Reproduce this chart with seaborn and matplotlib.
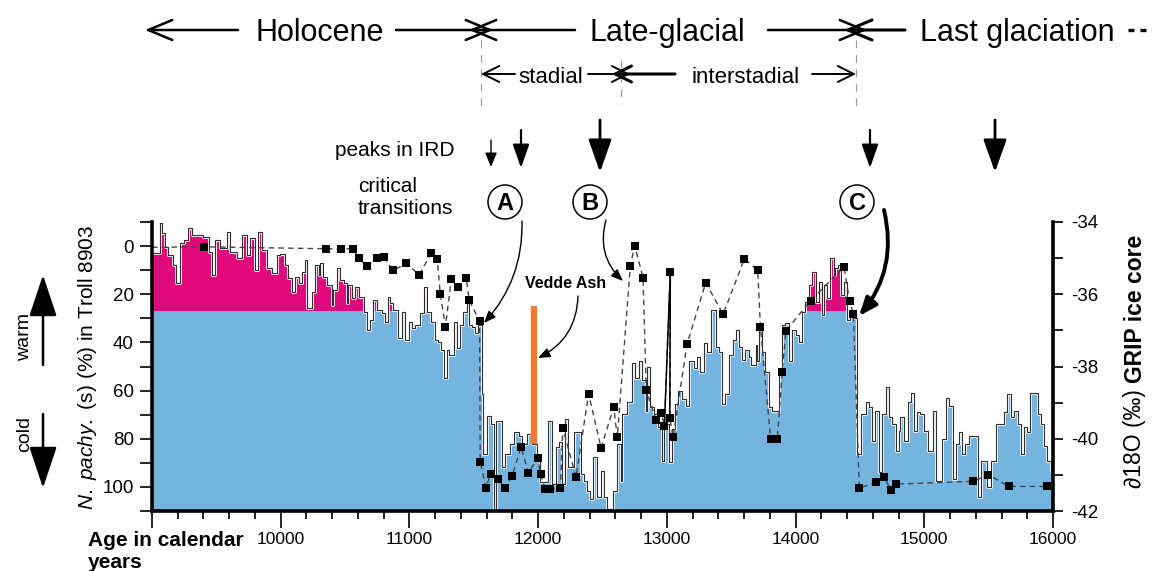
import numpy as np
import matplotlib
matplotlib.use("Agg")
import matplotlib.pyplot as plt
import matplotlib.transforms as mtransforms
from matplotlib.patches import FancyArrowPatch, Circle
from matplotlib.lines import Line2D
from matplotlib.ticker import MultipleLocator
from matplotlib import font_manager as fm
import seaborn as sns

# ---------------------------------------------------------------------------
# GRIP ice core d18O (permil): step series, start age of each interval
# ---------------------------------------------------------------------------
grip_age = [
    9000, 9060, 9075, 9100, 9125, 9165, 9190, 9220, 9245, 9280,
    9310, 9400, 9440, 9465, 9490, 9530, 9580, 9605, 9660, 9700,
    9735, 9760, 9800, 9825, 9855, 9890, 9930, 9970, 9995, 10035,
    10060, 10085, 10110, 10140, 10165, 10190, 10205, 10240, 10265, 10295,
    10305, 10325, 10360, 10395, 10410, 10435, 10460, 10490, 10515, 10525,
    10555, 10580, 10605, 10645, 10670, 10695, 10720, 10745, 10785, 10810,
    10830, 10850, 10875, 10915, 10940, 10965, 10995, 11020, 11045, 11085,
    11115, 11140, 11165, 11195, 11220, 11245, 11265, 11290, 11310, 11345,
    11370, 11395, 11420, 11445, 11460, 11485, 11510, 11535, 11565, 11575,
    11605, 11630, 11655, 11675, 11720, 11745, 11785, 11810, 11850, 11875,
    11915, 11955, 11990, 12015, 12080, 12110, 12135, 12160, 12185, 12210,
    12235, 12275, 12330, 12355, 12380, 12405, 12430, 12460, 12485, 12510,
    12535, 12585, 12615, 12640, 12655, 12690, 12730, 12755, 12780, 12810,
    12835, 12845, 12870, 12900, 12935, 12965, 12975, 13000, 13015, 13040,
    13065, 13090, 13120, 13145, 13170, 13210, 13235, 13260, 13285, 13310,
    13340, 13380, 13405, 13430, 13455, 13480, 13510, 13535, 13560, 13585,
    13610, 13635, 13650, 13690, 13700, 13715, 13740, 13765, 13790, 13820,
    13870, 13895, 13920, 13950, 13975, 14000, 14025, 14050, 14075, 14105,
    14130, 14155, 14180, 14205, 14220, 14245, 14270, 14300, 14310, 14330,
    14350, 14375, 14400, 14425, 14455, 14480, 14505, 14545, 14570, 14595,
    14620, 14650, 14675, 14700, 14725, 14750, 14780, 14805, 14815, 14840,
    14870, 14895, 14920, 14945, 14970, 15000, 15025, 15065, 15090, 15140,
    15165, 15190, 15220, 15245, 15270, 15295, 15320, 15350, 15415, 15440,
    15490, 15515, 15555, 15620, 15645, 15670, 15700, 15725, 15750, 15775,
    15800, 15825, 15880, 15905, 15930, 15955, 15985,
]
grip_d18o = [
    -34.86, -34.04, -34.31, -34.70, -34.92, -35.19, -35.69, -34.59, -34.50, -34.17,
    -34.37, -34.42, -34.83, -35.47, -34.50, -34.72, -34.28, -34.83, -35.00, -34.37,
    -34.92, -34.45, -35.33, -34.28, -34.78, -35.28, -35.41, -34.92, -34.89, -35.19,
    -35.55, -35.94, -35.52, -35.69, -35.39, -35.06, -36.38, -35.94, -35.19, -35.47,
    -35.14, -35.52, -35.74, -36.29, -35.88, -35.28, -35.61, -35.69, -36.24, -35.74,
    -36.10, -35.80, -36.07, -36.49, -36.98, -36.71, -36.16, -36.43, -36.52, -36.76,
    -36.07, -36.24, -36.43, -37.20, -36.49, -37.26, -36.76, -36.93, -36.85, -36.52,
    -35.80, -36.49, -36.76, -37.26, -37.31, -37.53, -38.31, -37.53, -37.67, -36.76,
    -37.48, -36.85, -36.49, -36.24, -36.85, -36.90, -37.07, -36.85, -38.77, -40.43,
    -39.37, -39.60, -41.94, -39.51, -40.78, -40.43, -40.15, -39.82, -39.93, -40.15,
    -39.87, -40.15, -40.43, -41.20, -39.51, -41.25, -40.23, -40.10, -41.25, -39.46,
    -40.78, -39.82, -40.98, -41.17, -41.45, -41.67, -40.51, -41.61, -40.90, -41.61,
    -41.94, -41.45, -40.15, -41.17, -39.32, -38.97, -37.89, -38.31, -37.86, -38.36,
    -39.24, -38.00, -39.13, -39.32, -39.68, -40.62, -39.40, -39.60, -40.65, -39.73,
    -39.05, -38.69, -38.91, -39.10, -37.86, -38.03, -37.73, -38.14, -37.34, -37.59,
    -36.43, -37.45, -37.59, -39.05, -38.77, -37.67, -37.26, -36.98, -37.45, -37.81,
    -37.53, -37.73, -37.95, -37.40, -37.86, -36.85, -37.59, -38.14, -39.13, -39.24,
    -38.22, -36.85, -36.79, -37.86, -36.98, -37.12, -37.31, -36.49, -36.21, -35.74,
    -35.39, -36.21, -35.66, -36.57, -35.74, -36.10, -35.00, -35.47, -35.28, -35.19,
    -36.02, -35.66, -36.71, -36.57, -36.65, -40.43, -39.32, -38.99, -39.13, -40.07,
    -39.24, -40.93, -39.32, -38.58, -39.40, -39.60, -40.34, -39.79, -39.40, -40.07,
    -38.97, -38.72, -39.79, -39.27, -39.32, -39.79, -40.34, -39.24, -41.17, -40.01,
    -38.86, -39.10, -41.12, -40.15, -39.82, -40.43, -40.15, -39.93, -41.61, -40.62,
    -41.34, -40.62, -39.60, -39.27, -38.77, -39.40, -39.24, -39.60, -40.43, -39.68,
    -39.82, -38.72, -39.32, -39.60, -40.21, -40.62, -40.90,
]
grip_end_age = 16000
warm_level = -36.45          # d18O above this level is shaded as warm

# ---------------------------------------------------------------------------
# N. pachyderma (s) percentages, core Troll 8903
# ---------------------------------------------------------------------------
troll_age = [
    9000, 9405, 10355, 10470, 10560, 10605, 10670, 10750, 10800, 10875,
    10975, 11075, 11170, 11215, 11240, 11280, 11325, 11380, 11440, 11465,
    11545, 11550, 11595, 11630, 11688, 11740, 11797, 11868, 11924, 11996,
    12019, 12055, 12095, 12173, 12192, 12294, 12392, 12489, 12587, 12615,
    12716, 12750, 12815, 12840, 12917, 12956, 12981, 13027, 13023, 13048,
    13157, 13302, 13437, 13603, 13706, 13727, 13806, 13858, 13896, 13925,
    14117, 14376, 14420, 14449, 14495, 14627, 14687, 14738, 14783, 15382,
    15495, 15659, 15957,
]
troll_pct = [
    0.5, 0.3, 1.1, 1.1, 1.1, 5.1, 8.3, 4.8, 4.6, 10.1,
    7.2, 11.9, 3.0, 5.2, 20.0, 33.5, 13.8, 16.9, 13.1, 22.4,
    31.3, 89.5, 100.3, 94.5, 96.8, 100.5, 95.6, 83.4, 94.2, 88.0,
    94.6, 100.8, 100.8, 100.5, 75.5, 96.0, 61.3, 83.8, 66.9, 79.4,
    8.3, -0.2, 13.1, 59.8, 72.4, 69.3, 74.5, 10.6, 71.3, 79.4,
    40.7, 15.2, 28.3, 5.2, 10.1, 33.5, 80.0, 80.0, 52.4, 35.2,
    22.6, 8.6, 22.9, 28.1, 100.5, 98.1, 95.8, 101.1, 98.8, 97.7,
    94.9, 99.8, 99.8,
]
troll_solid_age = [12981, 13027, 13023]
troll_solid_pct = [74.5, 10.6, 71.3]

vedde_age = 11965
vedde_pct = [25, 82]

x_ticks = list(range(9000, 16001, 1000))
x_tick_labels = [""] + [str(v) for v in range(10000, 16001, 1000)]
left_ticks = [0, 20, 40, 60, 80, 100]
right_ticks = [-42, -40, -38, -36, -34]

BLUE = "#74B4DF"
MAGENTA = "#E0087A"
ORANGE = "#F47A30"

# ---------------------------------------------------------------------------
W, H, DPI = 1175, 571, 100
sns.set_theme(style="ticks")
plt.rcParams["font.family"] = ["Liberation Sans", "DejaVu Sans"]
plt.rcParams["mathtext.fontset"] = "custom"
plt.rcParams["mathtext.rm"] = "Liberation Sans"
plt.rcParams["mathtext.it"] = "Liberation Sans:italic"
plt.rcParams["mathtext.bf"] = "Liberation Sans:bold"
plt.rcParams["axes.unicode_minus"] = False
for k in ("axes.edgecolor", "xtick.color", "ytick.color", "text.color", "axes.labelcolor"):
    plt.rcParams[k] = "black"

installed = {f.name for f in fm.fontManager.ttflist}
NARROW = "Liberation Sans Narrow" if "Liberation Sans Narrow" in installed else "Liberation Sans"
BIG = 27 if NARROW == "Liberation Sans Narrow" else 22
MID = 20 if NARROW == "Liberation Sans Narrow" else 16

fig = plt.figure(figsize=(W / DPI, H / DPI), dpi=DPI)
ax = fig.add_axes([152 / W, 1 - 511 / H, 901 / W, 289 / H])
ax2 = ax.twinx()
ax.set_zorder(ax2.get_zorder() + 1)
ax.patch.set_visible(False)

# pixel-space transform for the annotation layer (origin top-left)
PX = mtransforms.Affine2D().scale(1 / DPI, -1 / DPI).translate(0, H / DPI) + fig.dpi_scale_trans
K = 72 / DPI

# ---- GRIP record: blue below the warm level, magenta above it -------------
xs = np.append(np.asarray(grip_age, float), grip_end_age)
ys = np.append(np.asarray(grip_d18o, float), grip_d18o[-1])
ax2.fill_between(xs, -42, np.minimum(ys, warm_level), step="post", color=BLUE, lw=0)
ax2.fill_between(xs, warm_level, np.maximum(ys, warm_level), step="post", color=MAGENTA, lw=0)
sns.lineplot(x=xs, y=ys, drawstyle="steps-post", estimator=None, sort=False,
             color="white", lw=2.0, ax=ax2)
sns.lineplot(x=xs, y=ys, drawstyle="steps-post", estimator=None, sort=False,
             color="#2e2e2e", lw=0.8, ax=ax2)
ax2.set_ylim(-42, -34)
ax2.set_yticks(right_ticks)
ax2.yaxis.set_minor_locator(MultipleLocator(1))
ax2.set_ylabel("")

# ---- Troll 8903 N. pachyderma ---------------------------------------------
sns.lineplot(x=troll_age, y=troll_pct, estimator=None, sort=False,
             color="#444444", lw=1.0, linestyle=(0, (4, 3)), ax=ax)
sns.lineplot(x=troll_solid_age, y=troll_solid_pct, estimator=None, sort=False,
             color="black", lw=1.1, ax=ax)
sns.scatterplot(x=troll_age[1:], y=troll_pct[1:], marker="s", s=36,
                color="black", linewidth=0, ax=ax, zorder=5)
ax.plot([vedde_age, vedde_age], vedde_pct, color=ORANGE, lw=4.5, solid_capstyle="butt", zorder=4)

ax.set_xlim(9000, 16000)
ax.set_ylim(110, -10)
ax.set_xticks(x_ticks)
ax.set_xticklabels(x_tick_labels)
ax.xaxis.set_minor_locator(MultipleLocator(200))
ax.set_yticks(left_ticks)
ax.yaxis.set_minor_locator(MultipleLocator(10))
ax.set_xlabel("")
ax.set_ylabel("")

for s in ("top", "right"):
    ax.spines[s].set_visible(False)
for s in ("top", "left", "bottom"):
    ax2.spines[s].set_visible(False)
for sp in (ax.spines["left"], ax.spines["bottom"], ax2.spines["right"]):
    sp.set_linewidth(2.6)

ax.tick_params(axis="y", which="both", direction="out", length=9, width=1.2, labelsize=13.5, pad=4)
ax.tick_params(axis="x", which="major", direction="out", length=12, width=1.2, labelsize=12.5, pad=3)
ax.tick_params(axis="x", which="minor", direction="out", length=6, width=1.2)
ax2.tick_params(axis="y", which="both", direction="out", length=7, width=1.2, labelsize=13.5, pad=6)

# ---- axis titles ----------------------------------------------------------
fig.text(88, 367, r"$\mathit{N.\ pachy.}$ (s) (%) in Troll 8903", transform=PX,
         rotation=90, ha="center", va="center", fontsize=15)

# right-hand title: regular isotope part followed by the bold core name
renderer = fig.canvas.get_renderer()
t_iso = fig.text(1135, 488, "\u220218O (\u2030)", transform=PX, rotation=90,
                 rotation_mode="anchor", ha="left", va="center", fontsize=16.5)
iso_top = H - t_iso.get_window_extent(renderer).y1
fig.text(1135, iso_top - 6, "GRIP ice core", transform=PX, rotation=90,
         rotation_mode="anchor", ha="left", va="center", fontsize=16.5, fontweight="bold")

fig.text(88, 540, "Age in calendar", transform=PX, ha="left", va="center",
         fontsize=15, fontweight="bold")
fig.text(88, 562, "years", transform=PX, ha="left", va="center",
         fontsize=15, fontweight="bold")


def arrow(p0, p1, style="-|>", hl=10, hw=4, lw=1.0, rad=0.0, color="black", z=6):
    st = f"{style},head_length={hl * K:.3f},head_width={hw * K:.3f}"
    a = FancyArrowPatch(p0, p1, transform=PX, arrowstyle=st, mutation_scale=1,
                        connectionstyle=f"arc3,rad={rad}", lw=lw, color=color,
                        shrinkA=0, shrinkB=0, zorder=z)
    fig.add_artist(a)


def vdash(x, y0, y1):
    fig.add_artist(Line2D([x, x], [y0, y1], transform=PX, color="#9a9a9a",
                          lw=0.8, linestyle=(0, (7, 6))))


# ---- warm / cold indicator ------------------------------------------------
fig.text(25, 337, "warm", transform=PX, rotation=90, ha="center", va="center", fontsize=14)
fig.text(25, 434, "cold", transform=PX, rotation=90, ha="center", va="center", fontsize=14)
arrow((43, 365), (43, 275), hl=36, hw=12, lw=1.8)
arrow((43, 414), (43, 488), hl=36, hw=12, lw=1.8)

# ---- period bar -----------------------------------------------------------
vdash(481, 40, 108)
vdash(621, 60, 104)
vdash(856, 40, 108)

arrow((238, 30), (145, 30), style="->", hl=24, hw=10, lw=1.8)
fig.text(320, 41, "Holocene", transform=PX, ha="center", va="baseline",
         fontsize=BIG, family=NARROW)
arrow((396, 30), (493, 30), style="->", hl=24, hw=10, lw=1.8)
arrow((575, 30), (469, 30), style="->", hl=24, hw=10, lw=1.8)
fig.text(667, 41, "Late-glacial", transform=PX, ha="center", va="baseline",
         fontsize=BIG, family=NARROW)
arrow((768, 30), (867, 30), style="->", hl=24, hw=10, lw=1.8)
arrow((905, 30), (844, 30), style="->", hl=24, hw=10, lw=2.2)
fig.text(920, 41, "Last glaciation", transform=PX, ha="left", va="baseline",
         fontsize=BIG, family=NARROW)
fig.add_artist(Line2D([1128, 1150], [30, 30], transform=PX, color="black",
                      lw=2.4, linestyle=(0, (1.8, 1.8))))

arrow((515, 74), (481, 74), style="->", hl=16, hw=8, lw=1.4)
fig.text(551, 83, "stadial", transform=PX, ha="center", va="baseline",
         fontsize=MID, family=NARROW)
arrow((588, 74), (630, 74), style="->", hl=16, hw=8, lw=1.4)
arrow((675, 74), (612, 74), style="->", hl=16, hw=8, lw=2.2)
fig.text(746, 83, "interstadial", transform=PX, ha="center", va="baseline",
         fontsize=MID, family=NARROW)
arrow((812, 74), (856, 74), style="->", hl=16, hw=8, lw=1.4)

# ---- IRD peaks and critical transitions -----------------------------------
fig.text(335, 150, "peaks in IRD", transform=PX, ha="left", va="center", fontsize=15)
fig.text(358, 186, "critical", transform=PX, ha="left", va="center", fontsize=15)
fig.text(358, 208, "transitions", transform=PX, ha="left", va="center", fontsize=15)

arrow((491, 140), (491, 167), hl=12, hw=5, lw=1.0)
arrow((521, 130), (521, 168), hl=20, hw=7, lw=1.6)
arrow((600, 120), (600, 172), hl=28, hw=10, lw=2.0)
arrow((870, 130), (870, 168), hl=20, hw=7, lw=1.6)
arrow((995, 120), (995, 172), hl=28, hw=10, lw=2.0)

for cx, letter in ((505, "A"), (590, "B"), (857, "C")):
    fig.add_artist(Circle((cx, 202), 17, transform=PX, facecolor="white",
                          edgecolor="black", lw=1.1, zorder=6))
    fig.text(cx, 203, letter, transform=PX, ha="center", va="center",
             fontsize=17, fontweight="bold", zorder=7)

arrow((522, 221), (484, 323), hl=10, hw=4, lw=1.0, rad=-0.2)
arrow((606, 220), (623, 281), hl=10, hw=4, lw=1.0, rad=0.3)
arrow((884, 210), (859, 316), hl=15, hw=6, lw=2.8, rad=-0.25)

fig.text(566, 283, "Vedde Ash", transform=PX, ha="center", va="center",
         fontsize=11.5, fontweight="bold")
arrow((578, 296), (538, 358), hl=10, hw=4, lw=1.0, rad=-0.3)

fig.savefig("out.png", dpi=DPI)
